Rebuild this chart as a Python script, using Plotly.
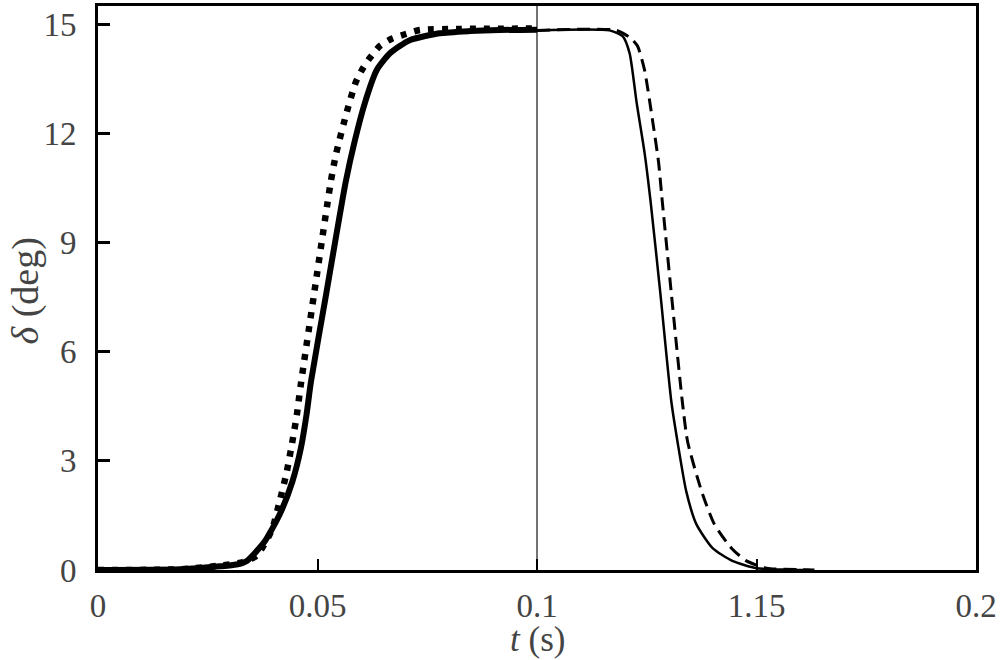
import plotly.graph_objects as go

# rising edge, thick solid line
t_rise = [0, 0.0187, 0.0278, 0.0315, 0.0339, 0.0380, 0.0414, 0.0443, 0.0462, 0.0475,
          0.0485, 0.0520, 0.0564, 0.0585, 0.0608, 0.0635, 0.0665, 0.0710, 0.0778,
          0.0847, 0.0915, 0.1]
d_rise = [0, 0.02, 0.1, 0.15, 0.25, 0.79, 1.53, 2.44, 3.34, 4.27,
          5.17, 7.6, 10.65, 11.8, 12.84, 13.74, 14.2, 14.56, 14.75,
          14.81, 14.84, 14.85]

# rising edge, dotted line
t_rise_dot = [0, 0.0187, 0.0278, 0.0330, 0.0362, 0.0396, 0.0414, 0.0430, 0.0442,
              0.0453, 0.0462, 0.0496, 0.0530, 0.0542, 0.0567, 0.0587, 0.0601,
              0.0619, 0.0642, 0.0669, 0.0701, 0.0733, 0.0824, 0.1]
d_rise_dot = [0, 0.02, 0.12, 0.22, 0.4, 1.1, 1.9, 2.7, 3.48,
              4.27, 5.1, 7.9, 10.65, 11.42, 12.6, 13.4, 13.74,
              14.07, 14.4, 14.6, 14.73, 14.84, 14.87, 14.88]

# falling edge, thin solid line
t_fall = [0.1, 0.1165, 0.1195, 0.1211, 0.1227, 0.1245, 0.1259, 0.1281, 0.1306,
          0.1320, 0.1340, 0.1363, 0.1400, 0.1445, 0.1500, 0.1575, 0.1620]
d_fall = [14.83, 14.83, 14.67, 14.2, 12.84, 11.47, 10.1, 7.6, 4.63,
          3.53, 2.16, 1.26, 0.6, 0.25, 0.05, 0.01, 0]

# falling edge, dashed line
t_fall_dash = [0.1, 0.1181, 0.1215, 0.1229, 0.1245, 0.1263, 0.1277, 0.1284, 0.1306,
               0.1331, 0.1343, 0.1375, 0.1404, 0.1443, 0.1477, 0.1523, 0.1598, 0.1632]
d_fall_dash = [14.83, 14.83, 14.6, 14.4, 13.74, 12.37, 11.2, 10.3, 7.6,
               4.63, 3.53, 2.16, 1.26, 0.6, 0.25, 0.05, 0.01, 0]

x_ticks = [0, 0.05, 0.1, 0.15, 0.2]
x_labels = ['0', '0.05', '0.1', '1.15', '0.2']
y_ticks = [0, 3, 6, 9, 12, 15]
t_switch = 0.1

serif = 'Liberation Serif, Times New Roman, serif'
grey = '#444444'

fig = go.Figure()
fig.add_trace(go.Scatter(x=t_rise_dot, y=d_rise_dot, mode='lines',
                         line=dict(color='black', width=6.5, dash='6px,8px',
                                   shape='spline', smoothing=0.6)))
fig.add_trace(go.Scatter(x=t_rise, y=d_rise, mode='lines',
                         line=dict(color='black', width=6,
                                   shape='spline', smoothing=0.6)))
fig.add_trace(go.Scatter(x=t_fall_dash, y=d_fall_dash, mode='lines',
                         line=dict(color='black', width=3, dash='13px,7px',
                                   shape='spline', smoothing=0.6)))
fig.add_trace(go.Scatter(x=t_fall, y=d_fall, mode='lines',
                         line=dict(color='black', width=2.5,
                                   shape='spline', smoothing=0.6)))

fig.add_shape(type='line', xref='x', yref='paper', x0=t_switch, x1=t_switch,
              y0=0, y1=1, line=dict(color=grey, width=1.5), layer='below')

fig.update_xaxes(range=[0, 0.2], tickvals=x_ticks, ticktext=x_labels,
                 ticks='inside', ticklen=11, tickwidth=2, tickcolor='black',
                 showline=True, linecolor='black', linewidth=3, mirror=True,
                 showgrid=False, zeroline=False, ticklabelstandoff=4,
                 tickfont=dict(family=serif, size=33, color=grey))
fig.update_yaxes(range=[0, 15.5], tickvals=y_ticks,
                 ticks='inside', ticklen=12, tickwidth=3, tickcolor='black',
                 showline=True, linecolor='black', linewidth=3, mirror=True,
                 showgrid=False, zeroline=False, ticklabelstandoff=12,
                 tickfont=dict(family=serif, size=33, color=grey))

fig.add_annotation(text='<i>t</i> (s)', xref='paper', yref='paper',
                   x=0.5, y=-0.124, yanchor='middle', showarrow=False,
                   font=dict(family=serif, size=35, color=grey))
fig.add_annotation(text='<i>δ</i> (deg)', xref='paper', yref='paper',
                   x=-0.083, y=0.494, xanchor='center', yanchor='middle',
                   textangle=-90, showarrow=False,
                   font=dict(family=serif, size=38, color=grey))

fig.update_layout(width=1000, height=660, showlegend=False,
                  plot_bgcolor='white', paper_bgcolor='white',
                  margin=dict(l=98, r=23, t=3, b=90))

# drop the browser's default page margin so the figure sits at 0,0
fig.write_html('out.html', config={'displayModeBar': False},
               post_script="document.body.style.margin='0';")
